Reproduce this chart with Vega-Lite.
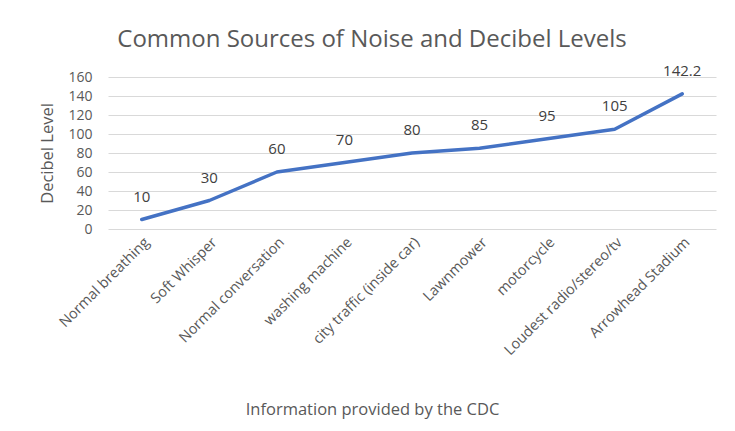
{
  "$schema": "https://vega.github.io/schema/vega-lite/v6.json",
  "width": 608,
  "height": 152,
  "autosize": "none",
  "padding": {"left": 108, "top": 77, "right": 19, "bottom": 202},
  "background": "white",
  "config": {"view": {"stroke": null}, "font": "Open Sans"},
  "title": {
    "text": "Common Sources of Noise and Decibel Levels",
    "fontSize": 24,
    "fontWeight": "normal",
    "color": "#595959",
    "anchor": "middle",
    "dx": -40,
    "offset": 12
  },
  "data": {
    "values": [
      {"source": "Normal breathing", "db": 10},
      {"source": "Soft Whisper", "db": 30},
      {"source": "Normal conversation", "db": 60},
      {"source": "washing machine", "db": 70},
      {"source": "city traffic (inside car)", "db": 80},
      {"source": "Lawnmower", "db": 85},
      {"source": "motorcycle", "db": 95},
      {"source": "Loudest radio/stereo/tv", "db": 105},
      {"source": "Arrowhead Stadium", "db": 142.2}
    ]
  },
  "encoding": {
    "x": {
      "field": "source",
      "type": "nominal",
      "sort": null,
      "scale": {"padding": 0.5},
      "axis": {
        "title": "Information provided by the CDC",
        "titleFontSize": 16.5,
        "titleFontWeight": "normal",
        "titleColor": "#595959",
        "titleX": 264,
        "titleY": 185,
        "titleAlign": "center",
        "titleBaseline": "alphabetic",
        "labelAngle": -45,
        "labelFontSize": 14.5,
        "labelColor": "#595959",
        "labelPadding": 6,
        "ticks": false,
        "domain": false,
        "grid": false
      }
    },
    "y": {
      "field": "db",
      "type": "quantitative",
      "scale": {"domain": [0, 160], "nice": false},
      "axis": {
        "title": "Decibel Level",
        "titleFontSize": 16.5,
        "titleFontWeight": "normal",
        "titleColor": "#595959",
        "titleX": -61,
        "titleY": 76,
        "titleAlign": "center",
        "titleBaseline": "middle",
        "values": [0, 20, 40, 60, 80, 100, 120, 140, 160],
        "labelFontSize": 14,
        "labelColor": "#595959",
        "labelPadding": 16,
        "ticks": false,
        "domain": false,
        "grid": true,
        "gridColor": "#d9d9d9",
        "gridWidth": 1
      }
    }
  },
  "layer": [
    {
      "mark": {"type": "line", "color": "#4472C4", "strokeWidth": 3.5, "strokeCap": "round", "strokeJoin": "round"}
    },
    {
      "mark": {"type": "text", "dy": -23, "fontSize": 15, "color": "#404040"},
      "encoding": {"text": {"field": "db", "type": "quantitative"}}
    }
  ]
}
